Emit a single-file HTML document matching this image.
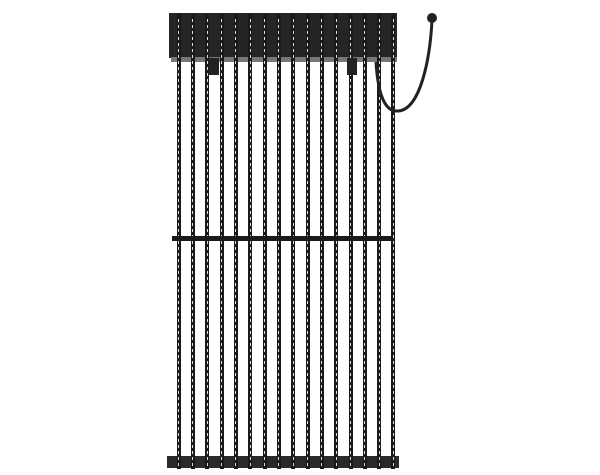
<!DOCTYPE html>
<html><head><style>
body{margin:0;background:#fff;width:600px;height:475px;position:relative;overflow:hidden}
.s{position:absolute;top:14px;width:4px;height:455px;background:#1a1a1a}
.s::after{content:"";position:absolute;left:1.5px;top:2px;width:1px;bottom:2px;background:repeating-linear-gradient(#1a1a1a 0 3px,#ddd 3px 6px)}
.a{position:absolute}
</style></head><body>
<div class="a" style="left:169px;top:13px;width:228px;height:45px;background:#252525"></div>
<div class="a" style="left:171px;top:57px;width:226px;height:5px;background:#777"></div>
<div class="a" style="left:167px;top:456px;width:232px;height:12px;background:#2a2a2a"></div>
<div id="st"></div>
<div class="a" style="left:172px;top:236px;width:221px;height:5px;background:#1a1a1a"></div>
<div class="a" style="left:209px;top:58px;width:10px;height:17px;background:#222"></div>
<div class="a" style="left:347px;top:58px;width:10px;height:17px;background:#222"></div>
<svg class="a" style="left:0;top:0" width="600" height="475">
<path d="M376 62 C378 95,385 112,398 111 C420 110,430 60,432 20" fill="none" stroke="#222" stroke-width="3"/>
<circle cx="432" cy="18" r="5" fill="#222"/>
</svg>
<script>
var h='';for(var i=0;i<16;i++){h+='<div class="s" style="left:'+(176.5+i*14.33).toFixed(1)+'px"></div>'}
document.getElementById('st').innerHTML=h;
</script>
</body></html>
